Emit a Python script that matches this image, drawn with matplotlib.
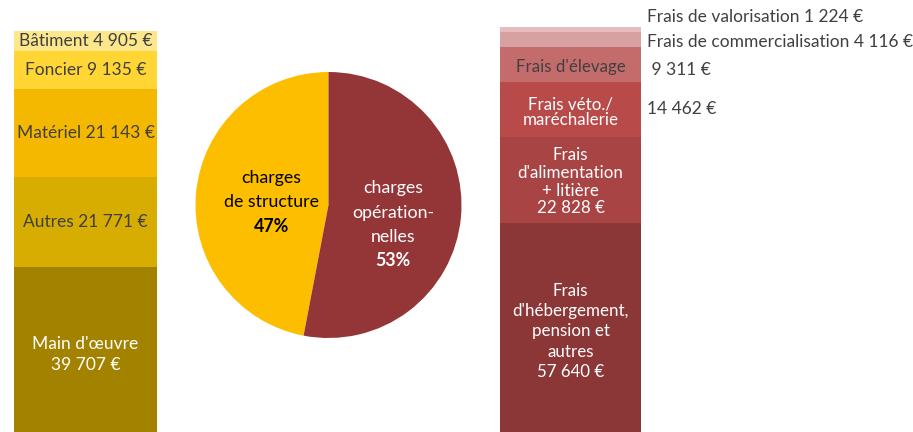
import matplotlib
matplotlib.use("Agg")
import numpy as np
from matplotlib import pyplot as plt

plt.rcParams["font.family"] = ["Lato", "DejaVu Sans"]

W, H = 913, 432

# left bar: charges de structure (bottom to top)
struct_labels = ["Main d'œuvre\n39 707 €", "Autres 21 771 €", "Matériel 21 143 €",
                 "Foncier 9 135 €", "Bâtiment 4 905 €"]
struct_values = [39707, 21771, 21143, 9135, 4905]
struct_colors = ["#a38200", "#d6ad00", "#f5b800", "#ffd633", "#fde78c"]
struct_text = ["white", "#404040", "#404040", "#404040", "#404040"]

# right bar: charges opérationnelles (bottom to top)
oper_labels = ["Frais\nd'hébergement,\npension et\nautres\n57 640 €",
               "Frais\nd'alimentation\n+ litière\n22 828 €",
               "Frais véto./\nmaréchalerie", "Frais d'élevage", "", ""]
oper_values = [57640, 22828, 14462, 9311, 4116, 1224]
oper_colors = ["#8c3737", "#a94444", "#b84a4a", "#c46c6c", "#d8a1a1", "#e5bdbe"]
oper_text = ["white", "white", "white", "#404040", "#404040", "#404040"]
oper_side = ["", "", "14 462 €", " 9 311 €", "Frais de commercialisation 4 116 €",
             "Frais de valorisation 1 224 €"]

pie_labels = [["charges", "de structure", "47%"],
              ["charges", "opération-", "nelles", "53%"]]
pie_values = [47, 53]
pie_colors = ["#fdbe00", "#943637"]

fig = plt.figure(figsize=(W / 100, H / 100), dpi=100)

# left stacked bar
ax1 = fig.add_axes([14 / W, 0, 143 / W, (H - 31) / H])
bottom = 0
for i, (v, c, lab, tc) in enumerate(zip(struct_values, struct_colors, struct_labels, struct_text)):
    ax1.bar(0, v, bottom=bottom, width=1, color=c)
    ax1.annotate(lab, xy=(0, bottom + v / 2), xytext=(0, -5 if i == 0 else 0),
                 textcoords="offset pixels", ha="center", va="center", color=tc,
                 fontsize=12.5, linespacing=1.38)
    bottom += v
ax1.set_xlim(-0.5, 0.5)
ax1.set_ylim(0, sum(struct_values))
ax1.axis("off")

# right stacked bar
ax2 = fig.add_axes([500 / W, 0, 141 / W, (H - 27) / H])
bottom = 0
side_offsets = [0, 0, 0, -5, -3, 12]
side_dx = [6, 6, 6, 6, 6, 6]
inner_spacing = [1.32, 1.14, 0.98, 1.0, 1.0, 1.0]
inner_dy = [0, -2, -3, -2, 0, 0]
for i, (v, c, lab, tc) in enumerate(zip(oper_values, oper_colors, oper_labels, oper_text)):
    ax2.bar(0, v, bottom=bottom, width=1, color=c)
    ax2.annotate(lab, xy=(0, bottom + v / 2), xytext=(0, inner_dy[i]),
                 textcoords="offset pixels", ha="center", va="center", color=tc,
                 fontsize=12.2, linespacing=inner_spacing[i])
    if oper_side[i]:
        ax2.annotate(oper_side[i], xy=(0.5, bottom + v / 2),
                     xytext=(side_dx[i], side_offsets[i]),
                     textcoords="offset pixels", ha="left", va="center",
                     color="#404040", fontsize=12.5, annotation_clip=False)
    bottom += v
ax2.set_xlim(-0.5, 0.5)
ax2.set_ylim(2120, sum(oper_values))
ax2.axis("off")

# pie
cx, cy, r = 328.5, 205, 133
ax3 = fig.add_axes([(cx - r) / W, (H - cy - r) / H, 2 * r / W, 2 * r / H])
ax3.pie(pie_values, colors=pie_colors, startangle=90, counterclock=True,
        radius=1, wedgeprops=dict(linewidth=0))
text_pos = [(-0.427, [0.203, 0.023, -0.158]),
            (0.485, [0.128, -0.06, -0.241, -0.414])]
text_col = ["black", "white"]
for (x, ys), lines, col in zip(text_pos, pie_labels, text_col):
    for j, (y, line) in enumerate(zip(ys, lines)):
        ax3.text(x, y, line, ha="center", va="center", fontsize=12.8, color=col,
                 fontweight="bold" if j == len(lines) - 1 else "normal")
ax3.set_xlim(-1, 1)
ax3.set_ylim(-1, 1)
ax3.set_aspect("equal")

fig.savefig("out.png", dpi=100)
